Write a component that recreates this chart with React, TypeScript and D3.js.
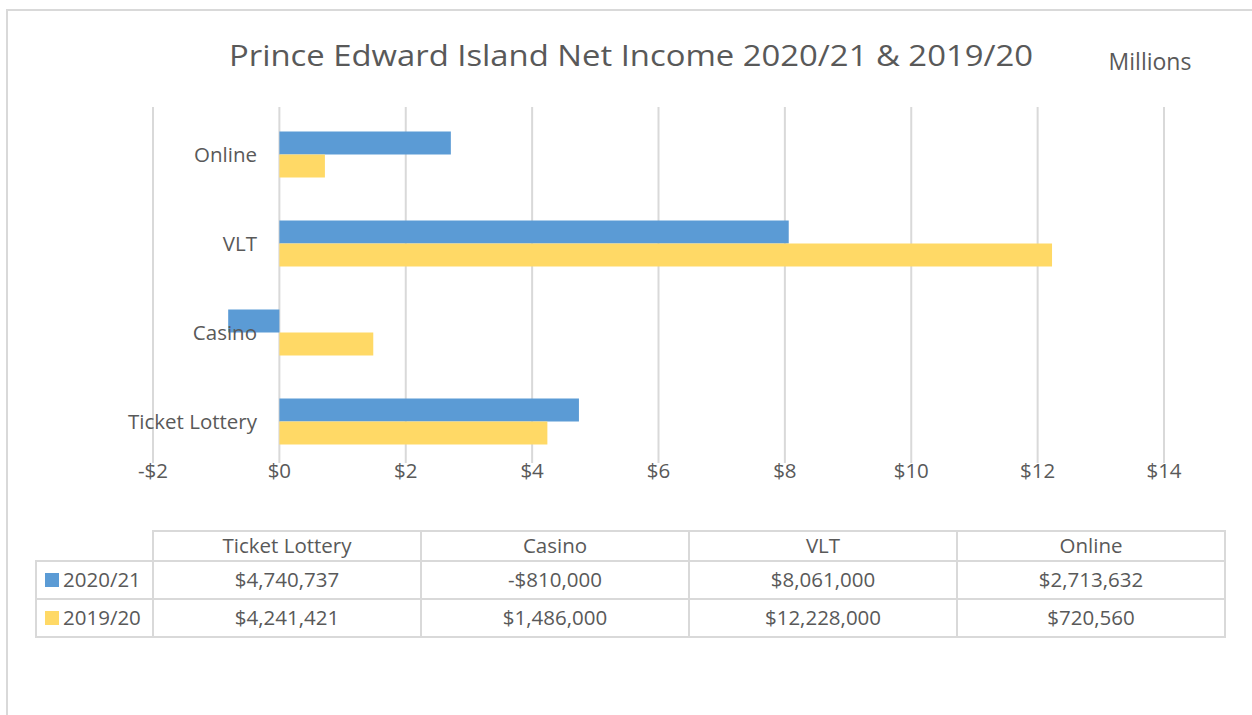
import { useEffect, useRef } from 'react';
import * as d3 from 'd3';

// data, from the chart's table
const categories = ['Ticket Lottery', 'Casino', 'VLT', 'Online'];
const seriesNames = ['2020/21', '2019/20'];
const values2021 = [4740737, -810000, 8061000, 2713632];
const values1920 = [4241421, 1486000, 12228000, 720560];
const xTicks = [-2, 0, 2, 4, 6, 8, 10, 12, 14];
const colors = ['#5B9BD5', '#FFD966'];

const FONT = "'Open Sans', 'Noto Sans', sans-serif";
const TEXT = '#595959';
const GRID = '#d9d9d9';
const FS = 20.5;

const fmt = (v: number) => (v < 0 ? '-$' : '$') + d3.format(',')(Math.abs(v));

const App = () => {
  const svgRef = useRef<SVGSVGElement>(null);

  useEffect(() => {
    const svg = d3.select(svgRef.current);
    svg.selectAll('*').remove();

    // chart frame
    svg.append('rect')
      .attr('x', 7).attr('y', 10).attr('width', 1300).attr('height', 800)
      .attr('fill', '#fff').attr('stroke', GRID).attr('stroke-width', 2);

    svg.append('text')
      .attr('x', 631).attr('y', 66).attr('text-anchor', 'middle')
      .attr('font-family', FONT).attr('font-size', 30).attr('fill', TEXT)
      .attr('textLength', 804).attr('lengthAdjust', 'spacingAndGlyphs')
      .text('Prince Edward Island Net Income 2020/21 & 2019/20');

    svg.append('text')
      .attr('x', 1150).attr('y', 70).attr('text-anchor', 'middle')
      .attr('font-family', FONT).attr('font-size', 23).attr('fill', TEXT)
      .text('Millions');

    const x = d3.scaleLinear().domain([-2, 14]).range([153, 1164]);
    const y = d3.scaleBand().domain([...categories].reverse()).range([110, 466]);
    const barH = 23;
    const offset = (y.bandwidth() - barH * 2) / 2;

    // gridlines
    svg.append('g').selectAll('line').data(xTicks).join('line')
      .attr('x1', d => x(d)).attr('x2', d => x(d))
      .attr('y1', 107).attr('y2', 463)
      .attr('stroke', GRID).attr('stroke-width', 2);

    // tick labels
    svg.append('g').selectAll('text').data(xTicks).join('text')
      .attr('x', d => x(d)).attr('y', 478).attr('text-anchor', 'middle')
      .attr('font-family', FONT).attr('font-size', FS).attr('fill', TEXT)
      .text(d => (d < 0 ? '-$' : '$') + Math.abs(d));

    const series = [values2021, values1920];
    series.forEach((vals, si) => {
      svg.append('g').selectAll('rect').data(categories).join('rect')
        .attr('x', (_, i) => x(Math.min(0, vals[i] / 1e6)))
        .attr('width', (_, i) => Math.abs(x(vals[i] / 1e6) - x(0)))
        .attr('y', d => (y(d) as number) + offset + si * barH)
        .attr('height', barH)
        .attr('fill', colors[si]);
    });

    // category labels
    svg.append('g').selectAll('text').data(categories).join('text')
      .attr('x', 257).attr('y', d => (y(d) as number) + y.bandwidth() / 2 + 7)
      .attr('text-anchor', 'end')
      .attr('font-family', FONT).attr('font-size', FS).attr('fill', TEXT)
      .text(d => d);

    // data table
    const colX = [153, 421, 689, 957, 1225];
    const rowY = [531, 561, 599, 637];
    const legendLeft = 36;
    const tbl = svg.append('g').attr('stroke', GRID).attr('stroke-width', 2).attr('fill', 'none');
    tbl.append('rect').attr('x', colX[0]).attr('y', rowY[0]).attr('width', colX[4] - colX[0]).attr('height', rowY[3] - rowY[0]);
    tbl.append('rect').attr('x', legendLeft).attr('y', rowY[1]).attr('width', colX[0] - legendLeft).attr('height', rowY[3] - rowY[1]);
    tbl.append('line').attr('x1', legendLeft).attr('x2', colX[4]).attr('y1', rowY[1]).attr('y2', rowY[1]);
    tbl.append('line').attr('x1', legendLeft).attr('x2', colX[4]).attr('y1', rowY[2]).attr('y2', rowY[2]);
    colX.slice(1, 4).forEach(cx => {
      tbl.append('line').attr('x1', cx).attr('x2', cx).attr('y1', rowY[0]).attr('y2', rowY[3]);
    });

    const colMid = (i: number) => (colX[i] + colX[i + 1]) / 2;
    svg.append('g').selectAll('text').data(categories).join('text')
      .attr('x', (_, i) => colMid(i)).attr('y', rowY[0] + 22).attr('text-anchor', 'middle')
      .attr('font-family', FONT).attr('font-size', FS).attr('fill', TEXT)
      .text(d => d);

    series.forEach((vals, si) => {
      const rowMidY = (rowY[si + 1] + rowY[si + 2]) / 2 + 7;
      svg.append('rect')
        .attr('x', 45).attr('y', rowMidY - 14).attr('width', 14).attr('height', 14)
        .attr('fill', colors[si]);
      svg.append('text')
        .attr('x', 63).attr('y', rowMidY)
        .attr('font-family', FONT).attr('font-size', FS).attr('fill', TEXT)
        .text(seriesNames[si]);
      svg.append('g').selectAll('text').data(vals).join('text')
        .attr('x', (_, i) => colMid(i)).attr('y', rowMidY).attr('text-anchor', 'middle')
        .attr('font-family', FONT).attr('font-size', FS).attr('fill', TEXT)
        .text(d => fmt(d));
    });
  }, []);

  return (
    <svg ref={svgRef} width={1252} height={715}
      style={{ position: 'absolute', left: 0, top: 0, background: '#fff' }} />
  );
};

export default App;
